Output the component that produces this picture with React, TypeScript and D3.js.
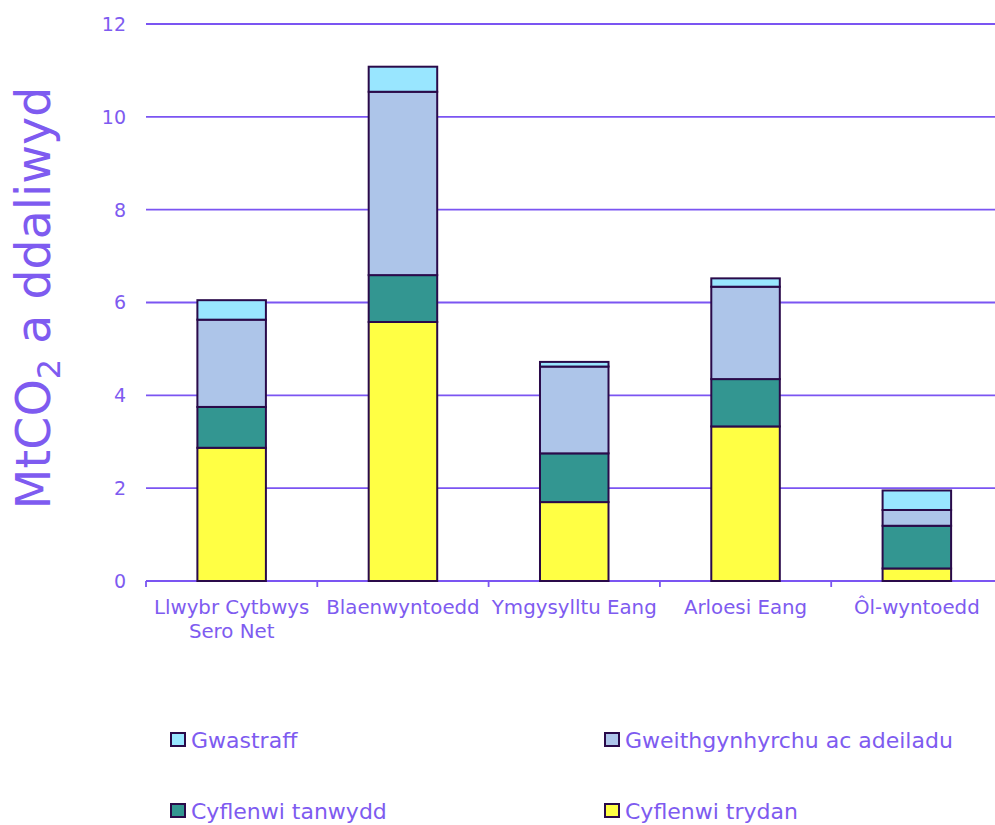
import React from "react";
import * as d3 from "d3";

const categories: string[][] = [
  ["Llwybr Cytbwys", "Sero Net"],
  ["Blaenwyntoedd"],
  ["Ymgysylltu Eang"],
  ["Arloesi Eang"],
  ["Ôl-wyntoedd"],
];
const seriesNames = ["Cyflenwi trydan", "Cyflenwi tanwydd", "Gweithgynhyrchu ac adeiladu", "Gwastraff"];
const trydan = [2.87, 5.58, 1.7, 3.33, 0.27];
const tanwydd = [0.88, 1.01, 1.05, 1.02, 0.92];
const gweith = [1.88, 3.95, 1.87, 1.99, 0.34];
const gwastraff = [0.42, 0.54, 0.1, 0.18, 0.42];
const colors = ["#FFFF44", "#339691", "#ADC5E9", "#99E6FF"];
const yTicks = [0, 2, 4, 6, 8, 10, 12];

const PURPLE = "#7B55F2";
const TEXT = "#7E5BF0";
const STROKE = "#2A0A4A";
const FONT = "'DejaVu Sans', sans-serif";

export default function App() {
  const W = 995, H = 825;
  const left = 146, right = 1002.5, top = 24, bottom = 581;
  const x = d3.scaleBand<number>().domain(d3.range(categories.length)).range([left, right]).paddingInner(0).paddingOuter(0);
  const y = d3.scaleLinear().domain([0, 12]).range([bottom, top]);
  const rows = categories.map((_, i) => ({ i, s0: trydan[i], s1: tanwydd[i], s2: gweith[i], s3: gwastraff[i] }));
  const stack = d3.stack<any>().keys(["s0", "s1", "s2", "s3"])(rows);
  const bw = x.bandwidth() * 0.4;

  const legend = [
    { name: seriesNames[3], c: colors[3], lx: 171, ly: 733 },
    { name: seriesNames[2], c: colors[2], lx: 605, ly: 733 },
    { name: seriesNames[1], c: colors[1], lx: 171, ly: 804 },
    { name: seriesNames[0], c: colors[0], lx: 605, ly: 804 },
  ];

  return (
    <svg width={W} height={H} style={{ position: "absolute", left: 0, top: 0, background: "#fff" }}>
      {yTicks.map((t) => (
        <g key={t}>
          <line x1={left} x2={W} y1={y(t)} y2={y(t)} stroke={PURPLE} strokeWidth={1.8} />
          <text x={126} y={y(t)} dy="0.36em" textAnchor="end" fontFamily={FONT} fontSize={19} fill={TEXT}>{t}</text>
        </g>
      ))}
      {d3.range(categories.length + 1).map((k) => {
        const xx = k < categories.length ? x(k)! : right;
        return <line key={k} x1={xx} x2={xx} y1={bottom} y2={bottom + 6} stroke={PURPLE} strokeWidth={1.8} />;
      })}
      <line x1={left} x2={W} y1={bottom} y2={bottom} stroke={PURPLE} strokeWidth={2} />
      {stack.map((s, si) =>
        s.map((d, i) => {
          const cx = x(i)! + x.bandwidth() / 2;
          return (
            <rect key={si + "-" + i} x={cx - bw / 2} width={bw} y={y(d[1])} height={y(d[0]) - y(d[1])}
              fill={colors[si]} stroke={STROKE} strokeWidth={2} />
          );
        })
      )}
      {categories.map((lines, i) => (
        <text key={i} x={x(i)! + x.bandwidth() / 2} textAnchor="middle" fontFamily={FONT} fontSize={19.8} fill={TEXT}>
          {lines.map((l, j) => (
            <tspan key={j} x={x(i)! + x.bandwidth() / 2} y={614 + j * 24}>{l}</tspan>
          ))}
        </text>
      ))}
      <text transform={`translate(50,298) rotate(-90)`} textAnchor="middle" fontFamily={FONT} fontSize={47.5} fill={TEXT}>
        MtCO<tspan fontSize={32} dy={10}>2</tspan><tspan dy={-10}> a ddaliwyd</tspan>
      </text>
      {legend.map((l) => (
        <g key={l.name}>
          <rect x={l.lx} y={l.ly} width={14} height={13} fill={l.c} stroke={STROKE} strokeWidth={2} />
          <text x={l.lx + 20} y={l.ly + 15} fontFamily={FONT} fontSize={22} fill={TEXT}>{l.name}</text>
        </g>
      ))}
    </svg>
  );
}
